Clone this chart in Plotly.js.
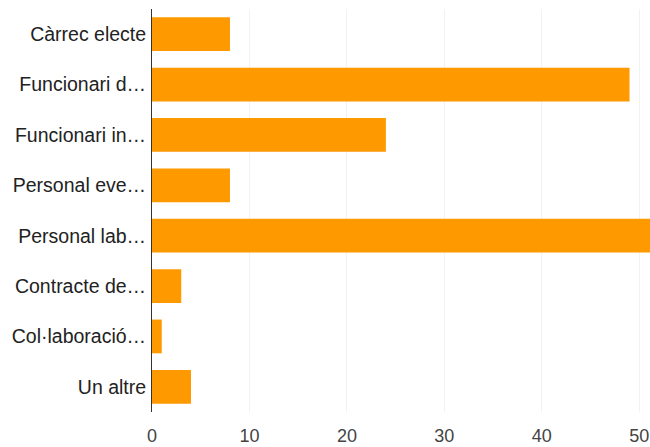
<!DOCTYPE html>
<html>
<head>
<meta charset="utf-8">
<script src="https://cdn.plot.ly/plotly-3.0.1.min.js"></script>
<style>html,body{margin:0;padding:0;background:#fff;}#chart{width:650px;height:447px;}</style>
</head>
<body>
<div id="chart"></div>
<script>
const categories = ["Càrrec electe", "Funcionari d…", "Funcionari in…", "Personal eve…", "Personal lab…", "Contracte de…", "Col·laboració…", "Un altre"];
const values = [8, 49, 24, 8, 53, 3, 1, 4];
const xTicks = [0, 10, 20, 30, 40, 50];

const trace = {
  type: 'bar',
  orientation: 'h',
  y: categories,
  x: values,
  marker: {color: '#FF9900'},
  hoverinfo: 'x+y'
};

const layout = {
  width: 650,
  height: 447,
  margin: {l: 152, r: 0, t: 9, b: 35},
  paper_bgcolor: '#fff',
  plot_bgcolor: '#fff',
  bargap: 0.33,
  showlegend: false,
  font: {family: 'Liberation Sans, Arial, sans-serif', size: 18, color: '#222'},
  xaxis: {
    range: [0, 51.1],
    tickvals: xTicks,
    ticktext: xTicks.map(String),
    showgrid: true,
    gridcolor: '#f2f2f2',
    zeroline: false,
    showline: false,
    ticks: '',
    ticklabelstandoff: 11,
    tickfont: {size: 18, color: '#444'}
  },
  yaxis: {
    type: 'category',
    categoryorder: 'array',
    categoryarray: categories,
    autorange: 'reversed',
    showline: true,
    linecolor: '#333',
    linewidth: 1,
    showgrid: false,
    ticks: '',
    ticklabelstandoff: 1,
    tickfont: {size: 19.5, color: '#222'}
  }
};

Plotly.newPlot('chart', [trace], layout, {displayModeBar: false, staticPlot: true});
</script>
</body>
</html>
